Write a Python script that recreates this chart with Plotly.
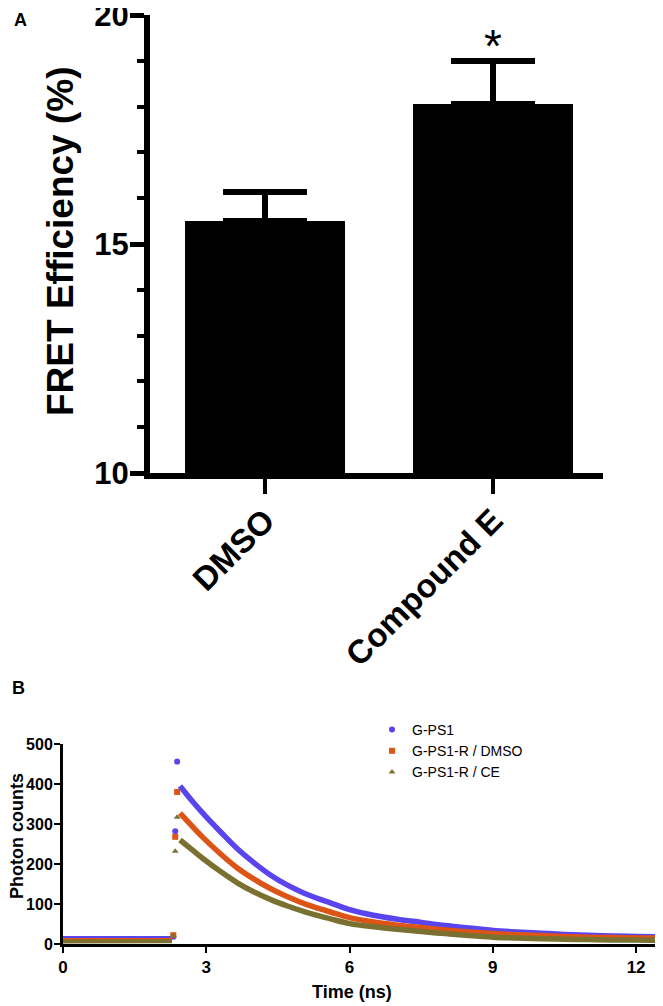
import plotly.graph_objects as go

# ---------------- Data: panel A ----------------
categories = ["DMSO", "Compound E"]
fret_mean = [15.5, 18.05]
fret_sem = [0.63, 0.95]
y_major_ticks = [10, 15, 20]
y_minor_ticks = [11, 12, 13, 14, 16, 17, 18, 19]

# ---------------- Data: panel B ----------------
series_names = ["G-PS1", "G-PS1-R / DMSO", "G-PS1-R / CE"]

t_base = [0.0, 0.5, 1.0, 1.5, 2.0, 2.28]
base_gps1 = [15, 15, 15, 15, 15, 15]
base_dmso = [10, 10, 10, 10, 10, 10]
base_ce = [6, 6, 6, 6, 6, 7]

t_spike = [2.31, 2.35, 2.39]
spike_gps1 = [18, 282, 456]
spike_dmso = [22, 268, 380]
spike_ce = [20, 232, 317]

t_decay = [2.45, 2.7, 2.95, 3.3, 3.65, 4.0, 4.35, 4.7, 5.05, 5.4, 5.6, 6.0,
           6.5, 7.0, 7.5, 8.0, 8.5, 9.0, 9.5, 10.0, 10.5, 11.0, 11.5, 12.0, 12.5]
decay_gps1 = [395, 358, 324, 280, 238, 203, 172, 147, 127, 111, 103, 86,
              72, 62, 54, 46, 40, 34, 30, 27, 24, 22, 20, 19, 18]
decay_dmso = [327, 295, 264, 225, 190, 162, 138, 118, 101, 87, 80, 66,
              55, 47, 41, 35, 30, 26, 23, 21, 19, 17, 16, 15, 15]
decay_ce = [260, 236, 212, 181, 153, 130, 111, 95, 81, 69, 63, 51,
            43, 37, 31, 26, 21, 17, 15, 13, 12, 11, 10, 10, 9]

x_ticks_b = [0, 3, 6, 9, 12]
y_ticks_b = [0, 100, 200, 300, 400, 500]

colors = ["#5a44ee", "#dd5516", "#7a7030"]
symbols = ["circle", "square", "triangle-up"]

W, H = 663, 1006
OFF = 8  # page body margin of the browser
FONT = "Liberation Sans, Arial, sans-serif"


def px_x(p):
    return (p - OFF) / W


def px_y(p):
    return 1 - (p - OFF) / H


fig = go.Figure()

# Panel A bars
fig.add_trace(go.Bar(
    x=categories, y=fret_mean, width=0.70,
    marker=dict(color="black", line=dict(width=0)),
    error_y=dict(type="data", symmetric=False, array=fret_sem,
                 arrayminus=[0, 0], color="black", thickness=6, width=42),
    xaxis="x", yaxis="y", showlegend=False,
))

# Panel B
base_vals = [base_gps1, base_dmso, base_ce]
spike_vals = [spike_gps1, spike_dmso, spike_ce]
decay_vals = [decay_gps1, decay_dmso, decay_ce]
for i in range(3):
    fig.add_trace(go.Scatter(
        x=t_base, y=base_vals[i], mode="lines",
        line=dict(color=colors[i], width=4),
        xaxis="x2", yaxis="y2", showlegend=False, hoverinfo="skip"))
    fig.add_trace(go.Scatter(
        x=t_decay, y=decay_vals[i], mode="lines",
        line=dict(color=colors[i], width=5.5, shape="spline", smoothing=1.0),
        xaxis="x2", yaxis="y2", showlegend=False))
    fig.add_trace(go.Scatter(
        x=t_spike, y=spike_vals[i], mode="markers",
        marker=dict(color=colors[i], symbol=symbols[i], size=6),
        xaxis="x2", yaxis="y2", showlegend=False))

for i in range(3):
    fig.add_trace(go.Scatter(
        x=[None], y=[None], mode="markers", name=series_names[i],
        marker=dict(color=colors[i], symbol=symbols[i], size=6),
        xaxis="x2", yaxis="y2", showlegend=True))

fig.update_layout(
    width=W, height=H,
    margin=dict(l=0, r=0, t=0, b=0),
    paper_bgcolor="white", plot_bgcolor="white",
    font=dict(family=FONT, color="black"),
    bargap=0,
    xaxis=dict(
        domain=[px_x(150), px_x(603)], anchor="y",
        type="category", categoryorder="array", categoryarray=categories,
        range=[-0.504, 1.482],
        showline=True, linecolor="black", linewidth=6,
        ticks="outside", ticklen=15, tickwidth=4, tickcolor="black",
        tickangle=-45, ticklabeloverflow="allow", ticklabelstandoff=-6,
        tickfont=dict(size=33, family=FONT, weight="bold", color="black"),
        showgrid=False, zeroline=False, automargin=False,
    ),
    yaxis=dict(
        domain=[px_y(473), px_y(15)], anchor="x",
        range=[10, 20],
        tickmode="array", tickvals=y_major_ticks,
        showline=True, linecolor="black", linewidth=6,
        ticks="outside", ticklen=14, tickwidth=5, tickcolor="black",
        ticklabeloverflow="allow", ticklabelstandoff=-5,
        tickfont=dict(size=31, family=FONT, weight="bold", color="black"),
        minor=dict(tickmode="array", tickvals=y_minor_ticks, ticks="outside",
                   ticklen=7, tickwidth=4, tickcolor="black", showgrid=False),
        showgrid=False, zeroline=False, automargin=False,
    ),
    xaxis2=dict(
        domain=[px_x(63), px_x(660)], anchor="y2",
        range=[0, 12.5],
        tickmode="array", tickvals=x_ticks_b,
        showline=True, linecolor="black", linewidth=3,
        ticks="outside", ticklen=6, tickwidth=2, tickcolor="black",
        ticklabeloverflow="allow",
        tickfont=dict(size=17, family=FONT, weight="bold", color="black"),
        showgrid=False, zeroline=False, automargin=False,
    ),
    yaxis2=dict(
        domain=[px_y(944), px_y(744)], anchor="x2",
        range=[0, 500],
        tickmode="array", tickvals=y_ticks_b,
        showline=True, linecolor="black", linewidth=3,
        ticks="outside", ticklen=6, tickwidth=2, tickcolor="black",
        ticklabeloverflow="allow", ticklabelstandoff=-2,
        tickfont=dict(size=16, family=FONT, weight="bold", color="black"),
        showgrid=False, zeroline=False, automargin=False,
    ),
    showlegend=True,
    legend=dict(
        x=px_x(372), y=px_y(714), xanchor="left", yanchor="top",
        font=dict(size=14, family=FONT, color="black"),
        bgcolor="rgba(0,0,0,0)", borderwidth=0,
    ),
    annotations=[
        dict(text="A", x=px_x(20), y=px_y(20), xref="paper", yref="paper",
             showarrow=False, xanchor="center", yanchor="middle",
             font=dict(size=18, family=FONT, weight="bold")),
        dict(text="B", x=px_x(18), y=px_y(688), xref="paper", yref="paper",
             showarrow=False, xanchor="center", yanchor="middle",
             font=dict(size=18, family=FONT, weight="bold")),
        dict(text="*", x=categories[1], y=19.33, xref="x", yref="y",
             showarrow=False, xanchor="center", yanchor="middle",
             font=dict(size=46, family=FONT)),
        dict(text="FRET Efficiency (%)", x=px_x(60), y=px_y(241),
             xref="paper", yref="paper", textangle=-90, showarrow=False,
             xanchor="center", yanchor="middle",
             font=dict(size=37, family=FONT, weight="bold")),
        dict(text="Photon counts", x=px_x(17), y=px_y(836),
             xref="paper", yref="paper", textangle=-90, showarrow=False,
             xanchor="center", yanchor="middle",
             font=dict(size=18, family=FONT, weight="bold")),
        dict(text="Time (ns)", x=px_x(352), y=px_y(992),
             xref="paper", yref="paper", showarrow=False,
             xanchor="center", yanchor="middle",
             font=dict(size=18, family=FONT, weight="bold")),
    ],
)

fig.write_html("out.html")
